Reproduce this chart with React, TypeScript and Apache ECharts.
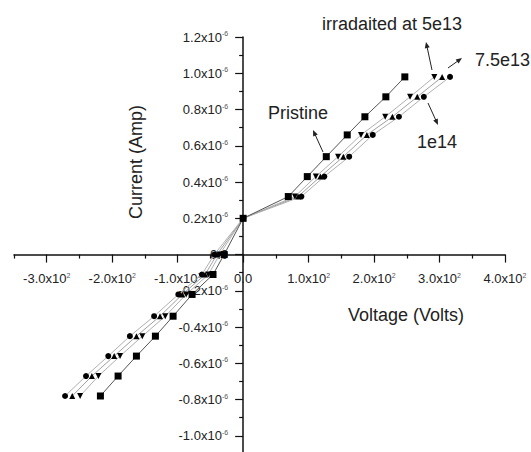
import React, { useEffect, useRef } from "react";
import * as echarts from "echarts";

// Current levels (A) shared by all sweeps
const currentLevels = [
  -7.8e-7, -6.7e-7, -5.6e-7, -4.5e-7, -3.4e-7, -2.2e-7, -1.1e-7, 0,
  2.0e-7, 3.2e-7, 4.3e-7, 5.4e-7, 6.6e-7, 7.6e-7, 8.7e-7, 9.8e-7,
];

// Voltage (V) at each current level
const pristineVolts = [-218, -191, -163, -134, -107, -78, -46, -29, 0, 69, 98, 127, 159, 186, 218, 247];
const volts5e13 = [-249, -221, -188, -154, -119, -87, -53, -36, 0, 79, 111, 145, 180, 217, 255, 292];
const volts75e13 = [-261, -231, -197, -163, -127, -93, -58, -40, 0, 84, 118, 153, 189, 228, 266, 304];
const volts1e14 = [-272, -240, -206, -173, -136, -99, -63, -44, 0, 89, 124, 162, 198, 238, 276, 316];

// Axis ranges and ticks
const X_MIN = -350;
const X_MAX = 400;
const Y_MIN = -1.1e-6;
const Y_MAX = 1.2e-6;
const xMajorTicks = [-300, -200, -100, 0, 100, 200, 300, 400];
const xMinorTicks = [-350, -250, -150, -50, 50, 150, 250, 350];
const yMajorTicks = [-1.0e-6, -8e-7, -6e-7, -4e-7, -2e-7, 0, 2e-7, 4e-7, 6e-7, 8e-7, 1.0e-6, 1.2e-6];
const yMinorTicks = [-1.1e-6, -9e-7, -7e-7, -5e-7, -3e-7, -1e-7, 1e-7, 3e-7, 5e-7, 7e-7, 9e-7, 1.1e-6];

const FONT = "'Liberation Sans', Arial, sans-serif";
const GRID = { left: 14, top: 37, width: 491, height: 417 };

const toPairs = (volts: number[]) => volts.map((v, i) => [v, currentLevels[i]]);

function arrow(x1: number, y1: number, x2: number, y2: number) {
  const dx = x2 - x1;
  const dy = y2 - y1;
  const len = Math.sqrt(dx * dx + dy * dy);
  const ux = dx / len;
  const uy = dy / len;
  const nx = -uy;
  const ny = ux;
  const head = 6;
  const half = 2.5;
  return [
    {
      type: "line",
      shape: { x1, y1, x2: x2 - ux * head * 0.8, y2: y2 - uy * head * 0.8 },
      style: { stroke: "#222", lineWidth: 1 },
    },
    {
      type: "polygon",
      shape: {
        points: [
          [x2, y2],
          [x2 - ux * head + nx * half, y2 - uy * head + ny * half],
          [x2 - ux * head - nx * half, y2 - uy * head - ny * half],
        ],
      },
      style: { fill: "#222" },
    },
  ];
}

export default function App() {
  const ref = useRef<HTMLDivElement>(null);

  useEffect(() => {
    if (!ref.current) return;
    const chart = echarts.init(ref.current, undefined, { renderer: "svg" });

    // Axes cross at the origin: shift them in from the grid edges
    const xAxisOffset = -GRID.height * ((0 - Y_MIN) / (Y_MAX - Y_MIN));
    const yAxisOffset = -GRID.width * ((0 - X_MIN) / (X_MAX - X_MIN));

    const labelBase = {
      fontFamily: FONT,
      fontSize: 13,
      color: "#222",
      lineHeight: 14,
      rich: {
        sup: { fontFamily: FONT, fontSize: 7, lineHeight: 7, verticalAlign: "top", color: "#555" },
      },
    };

    const xFmt = (v: number) => {
      if (Math.abs(v) < 1e-9) return "0.0";
      return `${(v / 100).toFixed(1)}x10{sup|2}`;
    };
    const yFmt = (v: number) => {
      if (Math.abs(v) < 1e-12) return "0.0";
      return `${(v * 1e6).toFixed(1)}x10{sup|-6}`;
    };

    const axisLine = { show: true, onZero: false, lineStyle: { color: "#111", width: 1.5 } };
    const hiddenLine = { show: false, onZero: false };
    const tickStyle = { color: "#111", width: 1.2 };

    const lineSeries = (name: string, volts: number[], symbol: string, size: number, lineColor: string, rotate = 0) => ({
      name,
      type: "line",
      data: toPairs(volts),
      symbol,
      symbolSize: size,
      symbolRotate: rotate,
      showAllSymbol: true,
      itemStyle: { color: "#000" },
      lineStyle: { color: lineColor, width: 1 },
      xAxisIndex: 0,
      yAxisIndex: 0,
    });

    chart.setOption({
      animation: false,
      backgroundColor: "#fff",
      grid: { ...GRID, containLabel: false, outerBoundsMode: "none" },
      xAxis: [
        {
          type: "value",
          min: X_MIN,
          max: X_MAX,
          position: "bottom",
          offset: xAxisOffset,
          axisLine,
          splitLine: { show: false },
          axisTick: { show: true, length: 8, customValues: xMajorTicks, lineStyle: tickStyle },
          axisLabel: { ...labelBase, margin: 17, customValues: xMajorTicks, formatter: xFmt },
        },
        {
          type: "value",
          min: X_MIN,
          max: X_MAX,
          position: "bottom",
          offset: xAxisOffset,
          axisLine: hiddenLine,
          splitLine: { show: false },
          axisTick: { show: true, length: 4, customValues: xMinorTicks, lineStyle: tickStyle },
          axisLabel: { show: false },
        },
      ],
      yAxis: [
        {
          type: "value",
          min: Y_MIN,
          max: Y_MAX,
          position: "left",
          offset: yAxisOffset,
          axisLine,
          splitLine: { show: false },
          axisTick: { show: true, length: 8, customValues: yMajorTicks, lineStyle: tickStyle },
          axisLabel: { ...labelBase, margin: 15, customValues: yMajorTicks, formatter: yFmt },
        },
        {
          type: "value",
          min: Y_MIN,
          max: Y_MAX,
          position: "left",
          offset: yAxisOffset,
          axisLine: hiddenLine,
          splitLine: { show: false },
          axisTick: { show: true, length: 4, customValues: yMinorTicks, lineStyle: tickStyle },
          axisLabel: { show: false },
        },
      ],
      series: [
        lineSeries("irradiated 5e13", volts5e13, "triangle", 6, "#b0b0b0", 180),
        lineSeries("irradiated 7.5e13", volts75e13, "triangle", 6, "#a0a0a0"),
        lineSeries("irradiated 1e14", volts1e14, "circle", 6, "#b0b0b0"),
        lineSeries("Pristine", pristineVolts, "rect", 7, "#555"),
      ],
      graphic: [
        {
          type: "text",
          x: 136,
          y: 162,
          rotation: Math.PI / 2,
          style: { text: "Current (Amp)", font: `18px ${FONT}`, fill: "#222", align: "center", verticalAlign: "middle" },
        },
        {
          type: "text",
          x: 406,
          y: 315,
          style: { text: "Voltage (Volts)", font: `18px ${FONT}`, fill: "#222", align: "center", verticalAlign: "middle" },
        },
        {
          type: "text",
          x: 322,
          y: 24,
          style: { text: "irradaited at 5e13", font: `18px ${FONT}`, fill: "#222", align: "left", verticalAlign: "middle" },
        },
        {
          type: "text",
          x: 475,
          y: 60,
          style: { text: "7.5e13", font: `18px ${FONT}`, fill: "#222", align: "left", verticalAlign: "middle" },
        },
        {
          type: "text",
          x: 417,
          y: 142,
          style: { text: "1e14", font: `18px ${FONT}`, fill: "#222", align: "left", verticalAlign: "middle" },
        },
        {
          type: "text",
          x: 268,
          y: 113,
          style: { text: "Pristine", font: `18px ${FONT}`, fill: "#222", align: "left", verticalAlign: "middle" },
        },
        ...arrow(432, 70, 426, 42),
        ...arrow(448, 68, 462, 58),
        ...arrow(428, 103, 438, 125),
        ...arrow(323, 152, 313, 130),
      ],
    });

    return () => chart.dispose();
  }, []);

  return (
    <div
      ref={ref}
      style={{ position: "fixed", left: 0, top: 0, width: 531, height: 452, background: "#fff" }}
    />
  );
}
